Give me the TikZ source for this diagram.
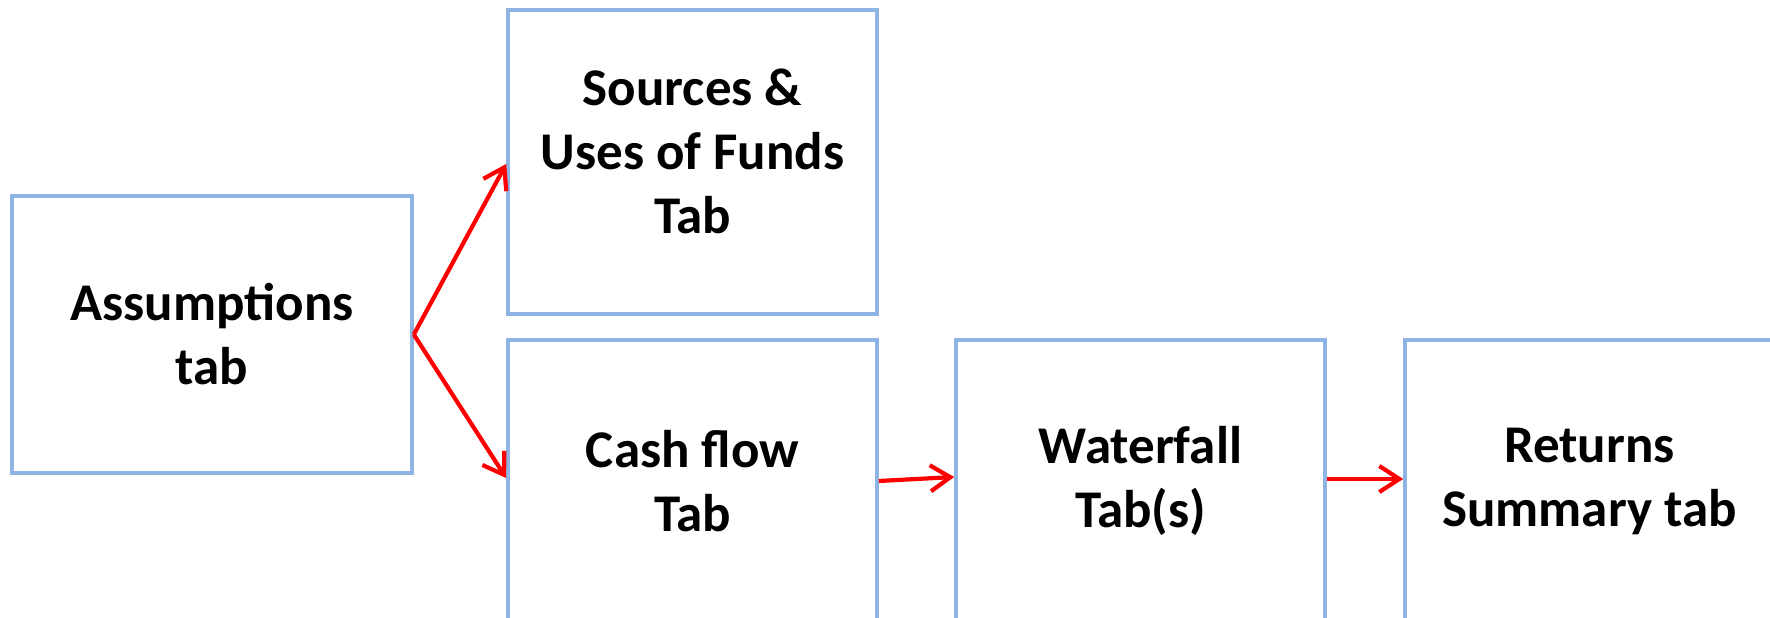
\documentclass[tikz,border=0pt]{standalone}
\usepackage{fontspec}
\setmainfont{Carlito}
\usetikzlibrary{arrows.meta}
\definecolor{boxblue}{RGB}{142,180,227}
\definecolor{arrred}{RGB}{255,0,0}
\begin{document}
\begin{tikzpicture}[x=1pt,y=1pt,
  tabbox/.style={draw=boxblue, line width=3.6pt, fill=white, inner sep=0pt},
  tabtext/.style={align=center, font=\fontsize{53}{64}\selectfont\bfseries, text=black},
  flow/.style={draw=arrred, line width=4.2pt,
    -{Straight Barb[length=20pt,width=26pt,line width=4.2pt]}}]
\useasboundingbox (0,0) rectangle (1770,618);
\clip (0,0) rectangle (1770,618);
\node[tabbox, minimum width=400pt, minimum height=277pt,
  label={[tabtext]center:Assumptions\\tab}] (asm) at (212,283.5) {};
\node[tabbox, minimum width=369pt, minimum height=304pt,
  label={[tabtext, yshift=11pt]center:Sources \&\\Uses of Funds\\Tab}] (src) at (692.5,456) {};
\node[tabbox, minimum width=369pt, minimum height=304pt,
  label={[tabtext, yshift=11pt]center:Cash flow\\Tab}] (cash) at (692.5,126) {};
\node[tabbox, minimum width=369pt, minimum height=304pt,
  label={[tabtext, yshift=11pt]center:Waterfall\\Tab(s)}] (wat) at (1140.5,126) {};
\node[tabbox, minimum width=369pt, minimum height=304pt,
  label={[tabtext, yshift=11pt]center:Returns\\Summary tab}] (ret) at (1589.5,126) {};
\draw[flow] (asm.east) -- ([yshift=-2pt]src.west);
\draw[flow] (asm.east) -- ([yshift=14pt]cash.west);
\draw[flow] ([yshift=11pt]cash.east) -- ([yshift=15pt]wat.west);
\draw[flow] ([yshift=13pt]wat.east) -- ([yshift=13pt]ret.west);
\end{tikzpicture}
\end{document}
